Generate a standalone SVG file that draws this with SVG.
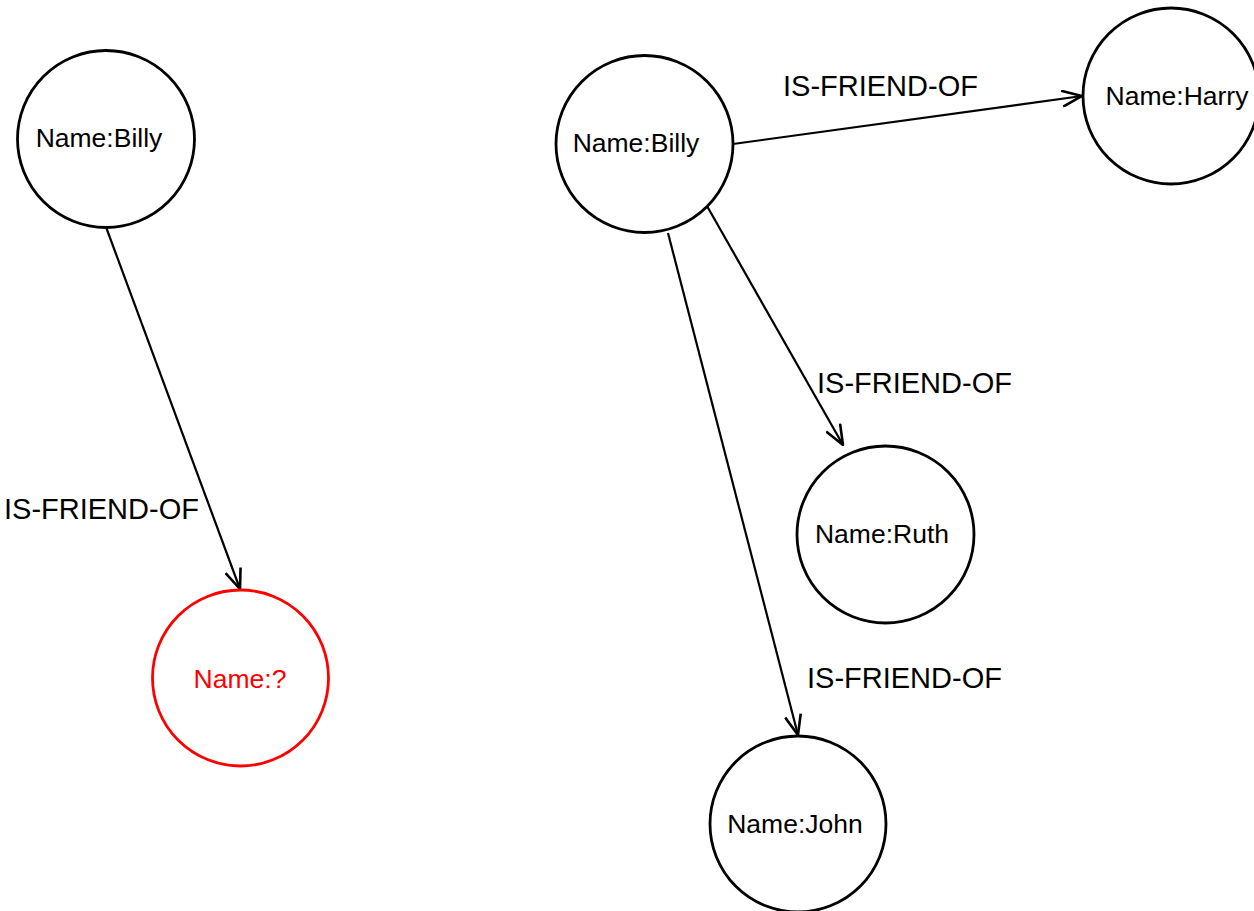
<svg xmlns="http://www.w3.org/2000/svg" width="1254" height="911" viewBox="0 0 1254 911">
  <style>
    .node { fill: #ffffff; stroke: #000000; stroke-width: 2.8; }
    .node.missing { stroke: #ff0000; }
    .name { font-family: "Liberation Sans", Arial, sans-serif; font-size: 26.5px; fill: #000000; text-anchor: middle; }
    .name.missing { fill: #ff0000; }
    .edge { fill: none; stroke: #000000; stroke-width: 2.2; marker-end: url(#open-arrow); }
    .label { font-family: "Liberation Sans", Arial, sans-serif; font-size: 29px; fill: #000000; }
  </style>
  <defs>
    <marker id="open-arrow" viewBox="0 0 22 18" refX="21" refY="9" markerWidth="22" markerHeight="18" markerUnits="userSpaceOnUse" orient="auto">
      <path d="M1,1 L21,9 L1,17" fill="none" stroke="#000000" stroke-width="2.6" stroke-linejoin="miter"/>
    </marker>
  </defs>
  <rect width="1254" height="911" fill="#ffffff"/>

  <g id="connectors">
    <line class="edge" x1="106" y1="227" x2="240" y2="589"/>
    <line class="edge" x1="733" y1="144" x2="1082" y2="96"/>
    <line class="edge" x1="707" y1="206" x2="843" y2="445"/>
    <line class="edge" x1="668" y1="233" x2="798" y2="735"/>
    <text class="label" x="4" y="519">IS-FRIEND-OF</text>
    <text class="label" x="783" y="96">IS-FRIEND-OF</text>
    <text class="label" x="817" y="393">IS-FRIEND-OF</text>
    <text class="label" x="807" y="688">IS-FRIEND-OF</text>
  </g>

  <g id="billy-query">
    <circle class="node" cx="106" cy="139" r="88.5"/>
    <text class="name" x="99" y="147">Name:Billy</text>
  </g>
  <g id="unknown">
    <circle class="node missing" cx="240.5" cy="678" r="88"/>
    <text class="name missing" x="240" y="688">Name:?</text>
  </g>
  <g id="billy">
    <circle class="node" cx="644.5" cy="144" r="88.5"/>
    <text class="name" x="636" y="152">Name:Billy</text>
  </g>
  <g id="harry">
    <circle class="node" cx="1171" cy="96" r="88"/>
    <text class="name" x="1177" y="105">Name:Harry</text>
  </g>
  <g id="ruth">
    <circle class="node" cx="885.5" cy="534.5" r="88.5"/>
    <text class="name" x="882" y="543">Name:Ruth</text>
  </g>
  <g id="john">
    <circle class="node" cx="798" cy="824" r="88"/>
    <text class="name" x="795" y="833">Name:John</text>
  </g>
</svg>
